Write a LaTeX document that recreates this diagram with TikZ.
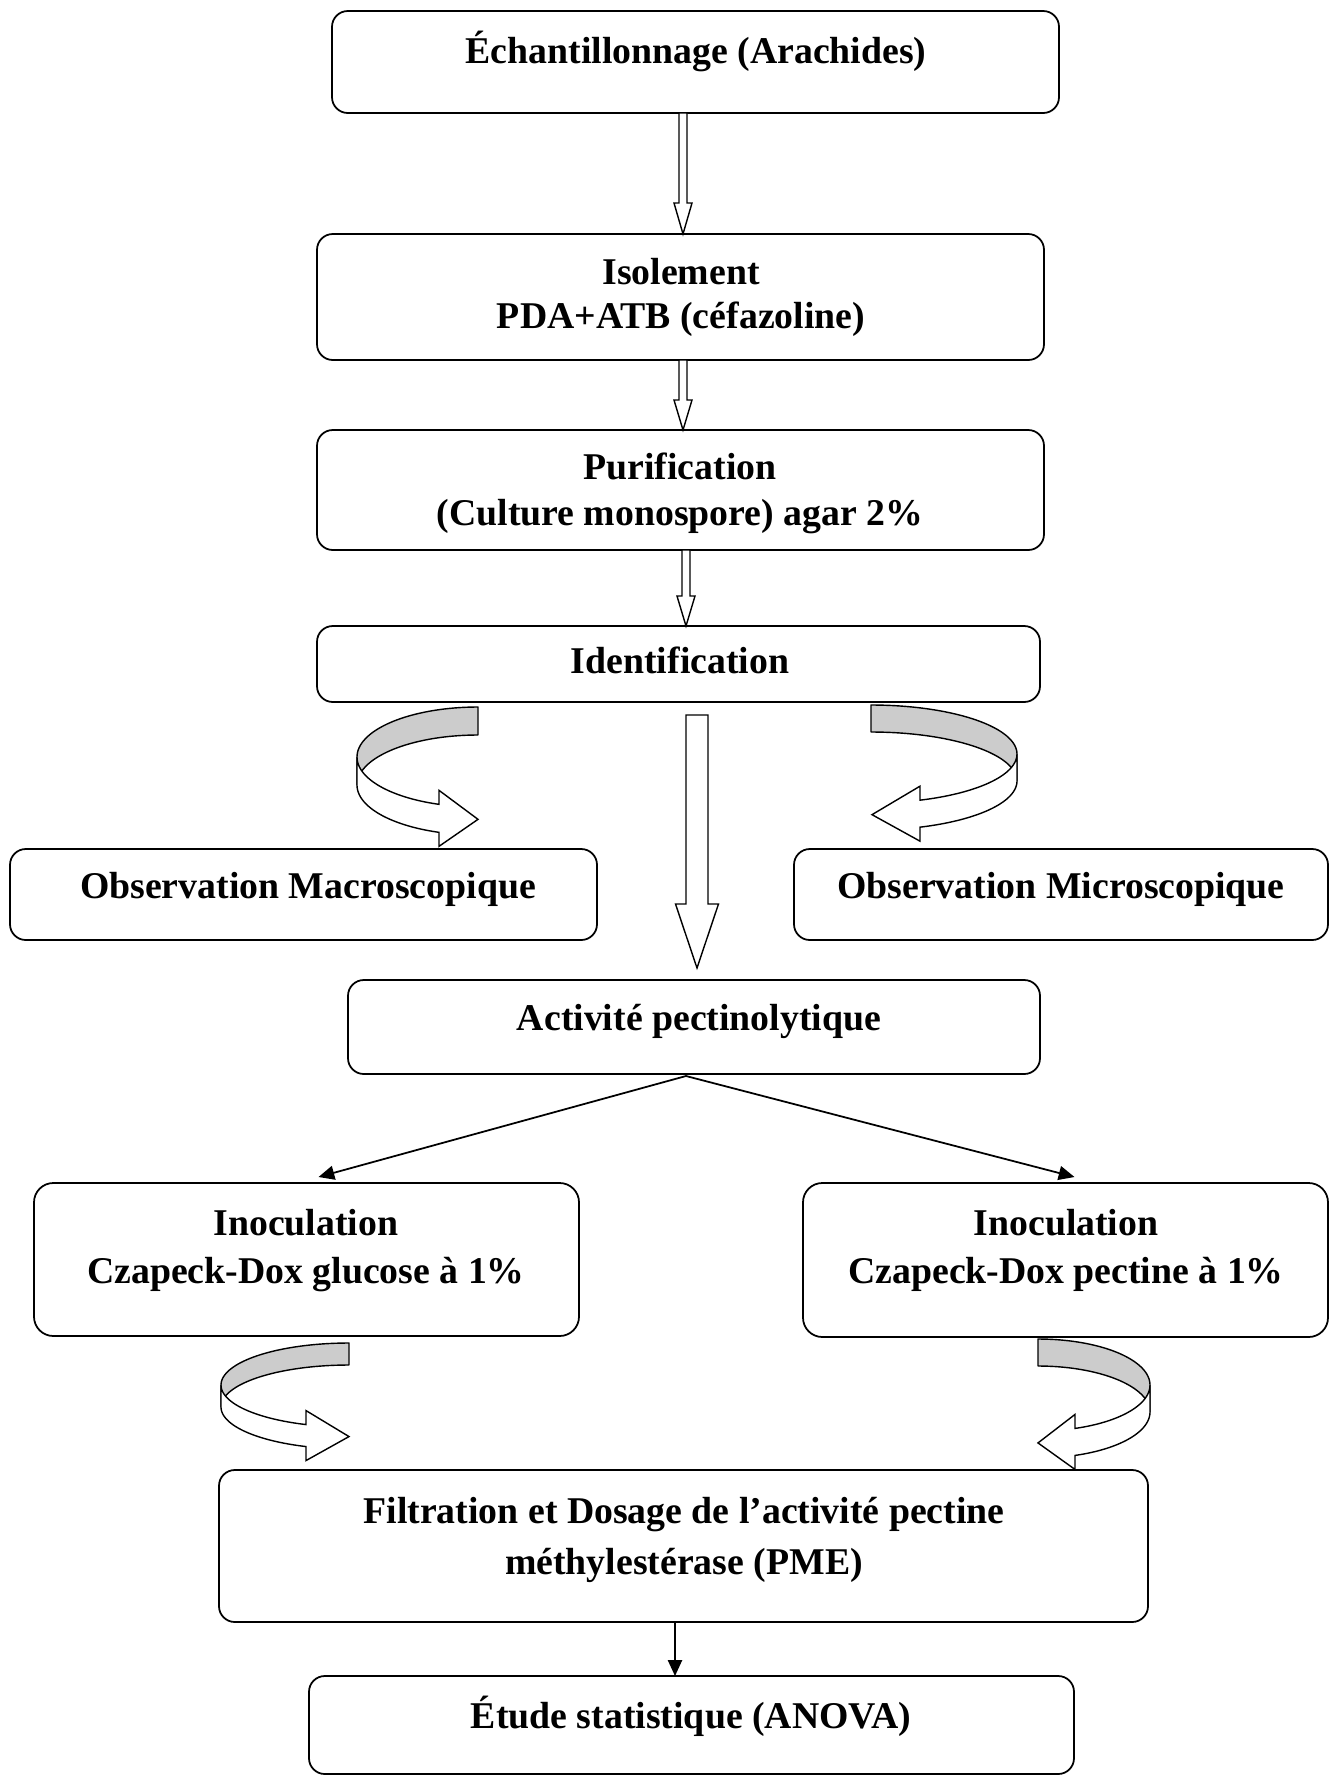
\documentclass[tikz,border=0pt]{standalone}
\usepackage{fontspec}
\setmainfont{Liberation Serif}
\usetikzlibrary{arrows.meta,calc}
\newcommand\boxnode[5]{%
  \node[box, minimum width={(#4-#2)*0.02cm}, minimum height={(#5-#3)*0.02cm}] (#1) at ({(#2+#4)/2},{(#3+#5)/2}) {};}
\newcommand\blockarrow[6]{% x, ytop, head start, ytip, shaft half, head half
  \path[blk] ({#1-#5},#2) -- ({#1-#5},#3) -- ({#1-#6},#3) -- (#1,#4) -- ({#1+#6},#3) -- ({#1+#5},#3) -- ({#1+#5},#2) -- cycle;}
\newcommand\ribbonarrow[7]{% cx, cy, a (signed), b, h, head x, tip x
  \pgfmathsetmacro\rcx{#1}\pgfmathsetmacro\rcy{#2}\pgfmathsetmacro\ra{#3}%
  \pgfmathsetmacro\rb{#4}\pgfmathsetmacro\rh{#5}\pgfmathsetmacro\rhx{#6}\pgfmathsetmacro\rtx{#7}%
  \pgfmathsetmacro\rth{360-acos((\rhx-\rcx)/(\ra))}%
  \pgfmathsetmacro\ryt{\rcy-\rb*sin(\rth)}%
  \pgfmathsetmacro\ryb{\ryt+\rh}%
  \pgfmathsetmacro\rym{(\ryt+\ryb)/2+1}%
  \path[back] plot[domain=90:180,samples=40,variable=\t] ({\rcx+(\ra)*cos(\t)},{\rcy-\rb*sin(\t)})
     -- plot[domain=180:90,samples=40,variable=\t] ({\rcx+(\ra)*cos(\t)},{\rcy+\rh-\rb*sin(\t)}) -- cycle;
  \path[front] plot[domain=180:\rth,samples=40,variable=\t] ({\rcx+(\ra)*cos(\t)},{\rcy-\rb*sin(\t)})
     -- (\rhx,\ryt-14) -- (\rtx,\rym) -- (\rhx,\ryb+14)
     -- plot[domain=\rth:180,samples=40,variable=\t] ({\rcx+(\ra)*cos(\t)},{\rcy+\rh-\rb*sin(\t)}) -- cycle;}
\begin{document}
\begin{tikzpicture}[x=0.02cm,y=-0.02cm,
  box/.style={draw, line width=1pt, rounded corners=9pt, inner sep=0pt, outer sep=0pt},
  lbl/.style={font=\fontsize{21.5}{26}\selectfont\bfseries, inner sep=0pt, anchor=base},
  blk/.style={draw, line width=0.8pt, fill=white, line join=miter},
  arr/.style={draw, line width=1pt, -{Triangle[length=9pt,width=8pt]}},
  back/.style={draw, line width=0.8pt, fill=gray!40, line join=round},
  front/.style={draw, line width=0.8pt, fill=white, line join=miter}]
\useasboundingbox[fill=white] (0,0) rectangle (1334,1776);

% boxes
\boxnode{ech}{332}{11}{1059}{113}
\boxnode{iso}{317}{234}{1044}{360}
\boxnode{pur}{317}{430}{1044}{550}
\boxnode{ident}{317}{626}{1040}{702}
\boxnode{macro}{10}{849}{597}{940}
\boxnode{micro}{794}{849}{1328}{940}
\boxnode{activ}{348}{980}{1040}{1074}
\begin{scope}[box/.append style={rounded corners=11pt}]
\boxnode{inocL}{34}{1183}{579}{1336}
\boxnode{inocR}{803}{1183}{1328}{1337}
\end{scope}
\boxnode{filt}{219}{1470}{1148}{1622}
\boxnode{etude}{309}{1676}{1074}{1774}

% texts
\node[lbl] (ech-t) at (696,63) {Échantillonnage (Arachides)};
\node[lbl] (iso-1) at (681,284) {Isolement};
\node[lbl] (iso-2) at (681,328) {PDA+ATB (céfazoline)};
\node[lbl] (pur-1) at (680,479) {Purification};
\node[lbl] (pur-2) at (680,525) {(Culture monospore) agar 2\%};
\node[lbl] (ident-t) at (680,673) {Identification};
\node[lbl] (macro-t) at (308,898) {Observation Macroscopique};
\node[lbl] (micro-t) at (1061,898) {Observation Microscopique};
\node[lbl] (activ-t) at (699,1030) {Activité pectinolytique};
\node[lbl] (inocL-1) at (306,1235) {Inoculation};
\node[lbl] (inocL-2) at (306,1283) {Czapeck-Dox glucose à 1\%};
\node[lbl] (inocR-1) at (1066,1235) {Inoculation};
\node[lbl] (inocR-2) at (1066,1283) {Czapeck-Dox pectine à 1\%};
\node[lbl] (filt-1) at (684,1523) {Filtration et Dosage de l’activité pectine};
\node[lbl] (filt-2) at (684,1574) {méthylestérase (PME)};
\node[lbl] (etude-t) at (691,1728) {Étude statistique (ANOVA)};

% block arrows
\blockarrow{683}{113}{203}{234}{4}{9}
\blockarrow{683}{360}{400}{430}{4}{9}
\blockarrow{686}{550}{596}{626}{4}{9}
\blockarrow{697}{715}{904}{968}{11}{21.5}

% curved ribbon arrows
\ribbonarrow{478}{757}{121}{50}{28}{439}{478}
\ribbonarrow{871}{754}{-146}{49}{27}{920}{872}
\ribbonarrow{349}{1385}{128}{42}{22}{306}{349}
\ribbonarrow{1038}{1385}{-112}{46}{27}{1075}{1038}

% line arrows
\draw[arr] ($(activ.south)+(-8,2)$) -- ($(inocL.north)+(12,-6)$);
\draw[arr] ($(activ.south)+(-8,2)$) -- ($(inocR.north)+(9,-6)$);
\coordinate (fe) at (675,0);
\draw[arr] (filt.south -| fe) -- (etude.north -| fe);
\end{tikzpicture}
\end{document}
